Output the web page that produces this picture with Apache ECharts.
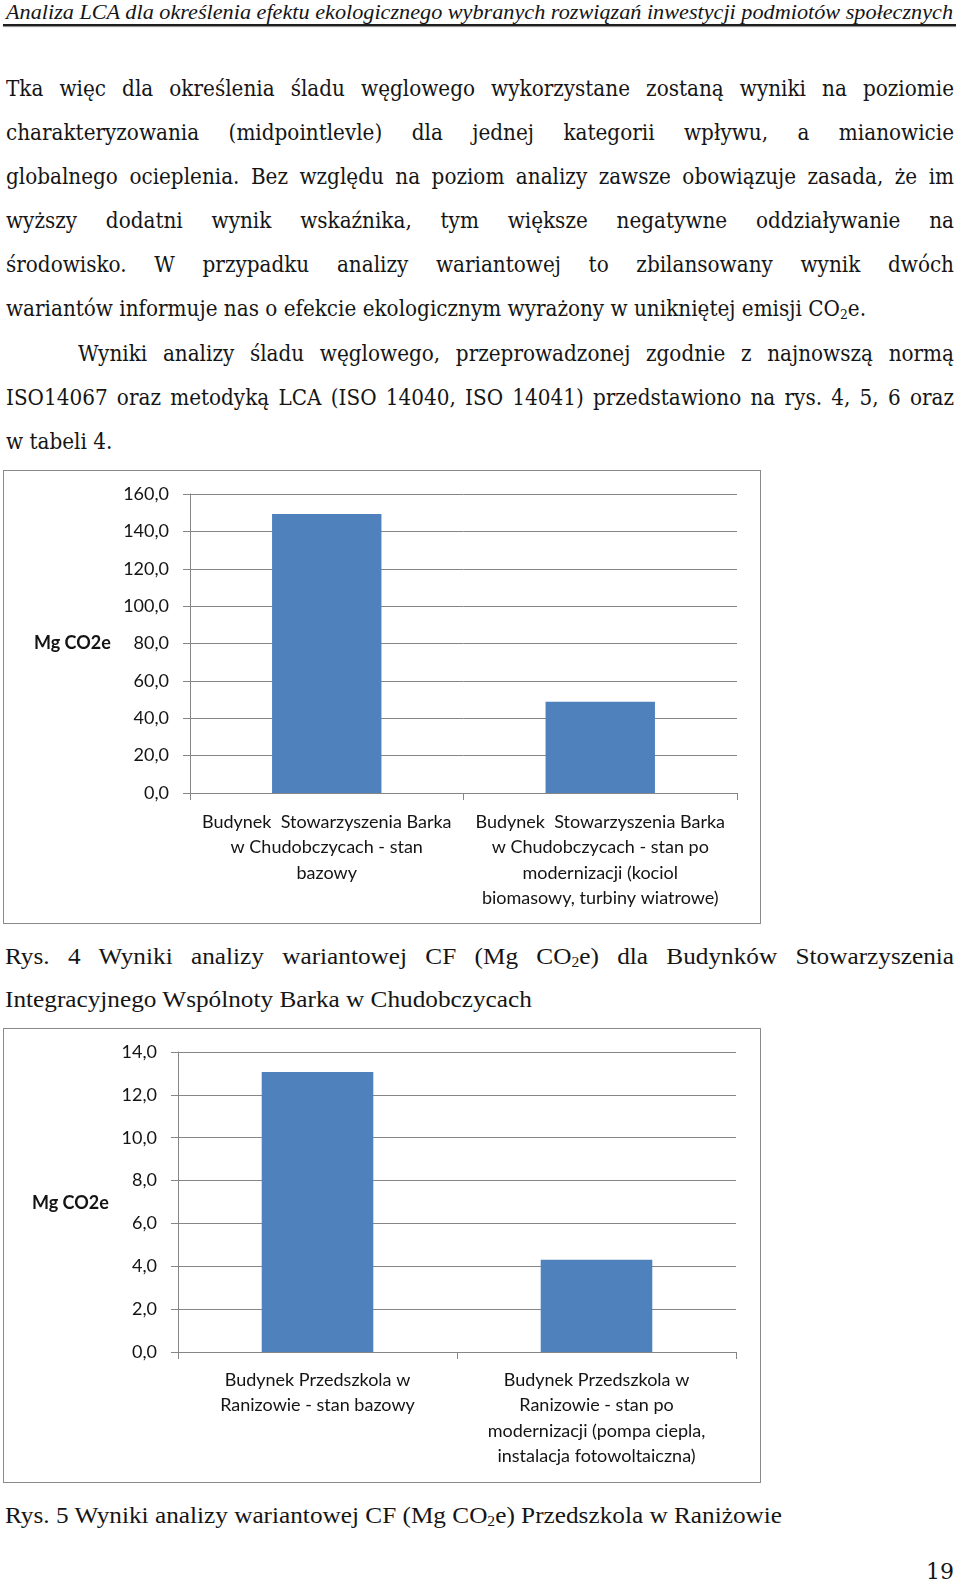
<!DOCTYPE html>
<html><head><meta charset="utf-8">
<script src="https://cdn.jsdelivr.net/npm/echarts@6/dist/echarts.min.js"></script>
<style>
html,body{margin:0;padding:0;background:#fff;}
body{width:960px;height:1585px;position:relative;overflow:hidden;}
.ln{position:absolute;white-space:nowrap;transform-origin:0 50%;color:#151515;height:30px;line-height:30px;}
.bd{font-family:'DejaVu Serif',serif;font-size:22px;}
.pg{font-family:'DejaVu Serif',serif;font-size:22px;}
.cp{font-family:'Liberation Serif',serif;font-size:24px;}
.hd{font-family:'Liberation Serif',serif;font-size:22px;font-style:italic;}
sub{font-size:0.62em;vertical-align:-0.22em;line-height:0;}
.box{position:absolute;border:1px solid #8a8a8a;box-sizing:border-box;background:#fff;}
.chart{position:absolute;left:0;top:0;width:100%;height:100%;}
#rule{position:absolute;left:3px;top:24px;width:953px;height:2px;background:#1e1e1e;box-shadow:0 1px 1px #888;}
</style></head>
<body>
<div id="rule"></div>
<div class="box" id="box1" style="left:3px;top:470px;width:758px;height:454px;"><div class="chart" id="c1"></div></div>
<div class="box" id="box2" style="left:3px;top:1028px;width:758px;height:455px;"><div class="chart" id="c2"></div></div>
<script>
// ---- data ----
const fig4Categories = [
  'Budynek  Stowarzyszenia Barka\nw Chudobczycach - stan\nbazowy',
  'Budynek  Stowarzyszenia Barka\nw Chudobczycach - stan po\nmodernizacji (kociol\nbiomasowy, turbiny wiatrowe)'
];
const fig4Values = [149.3, 48.8];
const fig4Ticks = [0, 20, 40, 60, 80, 100, 120, 140, 160];

const fig5Categories = [
  'Budynek Przedszkola w\nRanizowie - stan bazowy',
  'Budynek Przedszkola w\nRanizowie - stan po\nmodernizacji (pompa ciepla,\ninstalacja fotowoltaiczna)'
];
const fig5Values = [13.07, 4.30];
const fig5Ticks = [0, 2, 4, 6, 8, 10, 12, 14];

const yAxisName = 'Mg CO2e';

// ---- document text ----
const headerText = 'Analiza LCA dla określenia efektu ekologicznego wybranych rozwiązań inwestycji podmiotów społecznych';
const bodyLines = [
  ['Tka więc dla określenia śladu węglowego wykorzystane zostaną wyniki na poziomie', true, 6],
  ['charakteryzowania (midpointlevle) dla jednej kategorii wpływu, a mianowicie', true, 6],
  ['globalnego ocieplenia. Bez względu na poziom analizy zawsze obowiązuje zasada, że im', true, 6],
  ['wyższy dodatni wynik wskaźnika, tym większe negatywne oddziaływanie na', true, 6],
  ['środowisko. W przypadku analizy wariantowej to zbilansowany wynik dwóch', true, 6],
  ['wariantów informuje nas o efekcie ekologicznym wyrażony w unikniętej emisji CO<sub>2</sub>e.', false, 6],
  ['Wyniki analizy śladu węglowego, przeprowadzonej zgodnie z najnowszą normą', true, 78],
  ['ISO14067 oraz  metodyką LCA (ISO 14040, ISO 14041) przedstawiono na rys. 4, 5, 6 oraz', true, 6],
  ['w tabeli 4.', false, 6]
];
const bodyY = [89, 133, 177, 221, 265, 309, 354, 398, 442];
const capLines = [
  ['Rys. 4 Wyniki analizy wariantowej CF (Mg CO<sub>2</sub>e) dla Budynków Stowarzyszenia', true, 5, 956],
  ['Integracyjnego Wspólnoty Barka w Chudobczycach', false, 5, 999],
  ['Rys. 5 Wyniki analizy wariantowej CF (Mg CO<sub>2</sub>e) Przedszkola w Raniżowie', false, 5, 1515]
];
const RIGHT = 954;

function mk(cls, html, x, yc){
  const d = document.createElement('div');
  d.className = 'ln ' + cls;
  d.innerHTML = html;
  d.style.left = x + 'px';
  d.style.top = (yc - 15) + 'px';
  document.body.appendChild(d);
  return d;
}
function spaces(html){ return html.replace(/<[^>]+>/g,'').trim().split(/\s+/).length - 1; }

// header
const h = mk('hd', headerText, 6, 12);
h.style.transform = 'scaleX(' + ((953 - 6) / h.getBoundingClientRect().width) + ')';

// body
const bEls = bodyLines.map((l, i) => mk('bd', l[0], l[2], bodyY[i]));
const sB = 860 / bEls[5].getBoundingClientRect().width;
bEls.forEach((el, i) => {
  const l = bodyLines[i];
  if (l[1]) {
    const w = el.getBoundingClientRect().width;
    const target = (RIGHT - l[2]) / sB;
    el.style.wordSpacing = ((target - w) / spaces(l[0])) + 'px';
  }
  el.style.transform = 'scaleX(' + sB + ')';
});

// captions
const cEls = capLines.map(l => mk('cp', l[0], l[2], l[3]));
const sC = 777 / cEls[2].getBoundingClientRect().width;
cEls.forEach((el, i) => {
  const l = capLines[i];
  if (l[1]) {
    const w = el.getBoundingClientRect().width;
    const target = (RIGHT - l[2]) / sC;
    el.style.wordSpacing = ((target - w) / spaces(l[0])) + 'px';
  }
  el.style.transform = 'scaleX(' + sC + ')';
});

// page number
const pn = mk('pg', '19', 0, 1572);
pn.style.left = (954 - pn.getBoundingClientRect().width) + 'px';

// ---- charts ----
const GRID = '#868686';
const FONT = 'Lato';
function makeChart(el, cats, vals, ticks, g, nameX, nameY, catMargin){
  const c = echarts.init(el, null, {renderer: 'canvas'});
  c.setOption({
    animation: false,
    grid: {left: g.left, right: g.right, top: g.top, height: g.height, containLabel: false},
    xAxis: {
      type: 'category', data: cats,
      axisLine: {show: true, lineStyle: {color: GRID, width: 1}},
      axisTick: {show: true, length: 7, lineStyle: {color: GRID, width: 1}},
      axisLabel: {interval: 0, fontFamily: FONT, fontSize: 18, color: '#141414', lineHeight: 25.5, margin: catMargin}
    },
    yAxis: {
      type: 'value', min: ticks[0], max: ticks[ticks.length - 1], interval: ticks[1] - ticks[0],
      axisLine: {show: true, lineStyle: {color: GRID, width: 1}},
      axisTick: {show: true, length: 7, lineStyle: {color: GRID, width: 1}},
      splitLine: {show: true, lineStyle: {color: GRID, width: 1}},
      axisLabel: {fontFamily: FONT, fontSize: 18, color: '#141414', margin: 21,
        formatter: v => v.toFixed(1).replace('.', ',')}
    },
    series: [{type: 'bar', data: vals, barWidth: '40%', itemStyle: {color: '#4F81BD'}}],
    graphic: [{type: 'text', x: nameX, y: nameY,
      style: {text: yAxisName, font: 'bold 18px Lato', fill: '#141414', align: 'left', verticalAlign: 'middle'}}]
  });
}
makeChart(document.getElementById('c1'), fig4Categories, fig4Values, fig4Ticks,
  {left: 186, right: 23, top: 23, height: 299}, 30, 172, 16);
makeChart(document.getElementById('c2'), fig5Categories, fig5Values, fig5Ticks,
  {left: 174, right: 24, top: 23, height: 300}, 28, 174, 15);
</script>
</body></html>
